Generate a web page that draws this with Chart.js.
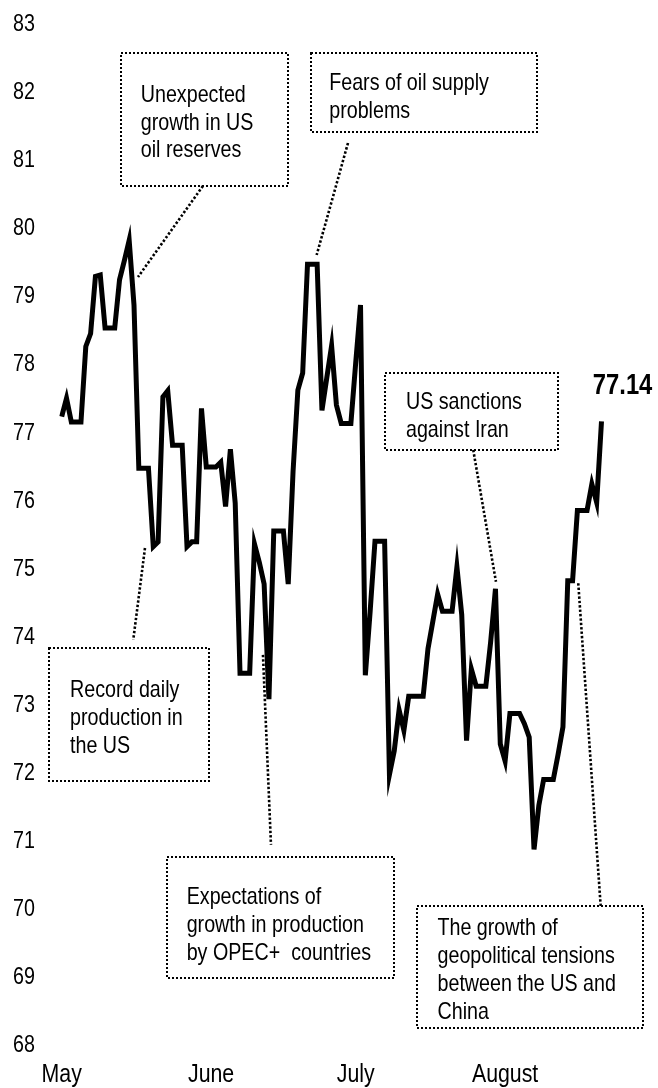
<!DOCTYPE html>
<html><head><meta charset="utf-8">
<script src="https://cdn.jsdelivr.net/npm/chart.js@4.4.1/dist/chart.umd.min.js"></script>
<style>html,body{margin:0;padding:0;background:#fff;}canvas{display:block;}</style>
</head><body>
<canvas id="c" width="658" height="1088"></canvas>
<script>
// ---- data ----
const monthNames = ['May', 'June', 'July', 'August'];
const monthDays = [31, 30, 31, 21];
const prices = [
  77.21, 77.48, 77.13, 77.13, 77.13, 78.24, 78.43, 79.27, 79.29, 78.51,
  78.51, 78.51, 79.22, 79.50, 79.80, 78.85, 76.45, 76.45, 76.45, 75.30,
  75.37, 77.50, 77.59, 76.79, 76.79, 76.79, 75.30, 75.37, 75.37, 77.33,
  76.47, 76.47, 76.47, 76.54, 75.89, 76.73, 75.94, 73.44, 73.44, 73.44,
  75.34, 75.07, 74.75, 73.06, 75.53, 75.53, 75.53, 74.75, 76.40, 77.60,
  77.85, 79.45, 79.45, 79.45, 77.30, 77.78, 78.25, 77.38, 77.11, 77.11,
  77.11, 78.00, 78.85, 73.41, 74.35, 75.38, 75.38, 75.38, 71.95, 72.30,
  72.90, 72.60, 73.10, 73.10, 73.10, 73.10, 73.80, 74.20, 74.60, 74.35,
  74.35, 74.35, 75.00, 74.30, 72.45, 73.50, 73.25, 73.25, 73.25, 73.90,
  74.68, 72.40, 72.15, 72.85, 72.85, 72.85, 72.70, 72.50, 70.85, 71.50,
  71.88, 71.88, 71.88, 72.25, 72.65, 74.80, 74.80, 75.83, 75.83, 75.83,
  76.22, 75.95, 77.14
];
const yMin = 68, yMax = 83, yStep = 1;
const lastValueLabel = '77.14';

// categories: one per calendar day
const categories = [];
monthNames.forEach((m, k) => { for (let d = 1; d <= monthDays[k]; d++) categories.push(d + ' ' + m); });

// annotation texts
const noteTexts = [
  ['Unexpected', 'growth in US', 'oil reserves'],
  ['Fears of oil supply', 'problems'],
  ['Record daily', 'production in', 'the US'],
  ['Expectations of', 'growth in production', 'by OPEC+  countries'],
  ['The growth of', 'geopolitical tensions', 'between the US and', 'China'],
  ['US sanctions', 'against Iran']
];
// annotation geometry in axis units (x: day index, y: price)
const noteGeom = [
  { box: [12.24, 82.552, 46.95, 80.598], textX: 16.4, textY: 81.964, leader: [29.3, 80.598, 15.83, 79.26] },
  { box: [51.66, 82.552, 98.67, 81.396], textX: 55.5, textY: 82.130, leader: [59.4, 81.23, 52.9, 79.584] },
  { box: [-2.57, 73.806, 30.62, 71.861], textX: 1.72, textY: 73.22, leader: [17.28, 75.28, 14.85, 73.93] },
  { box: [21.91, 70.736, 69.0, 68.967], textX: 25.93, textY: 70.18, leader: [41.76, 73.71, 43.42, 70.92] },
  { box: [73.65, 70.02, 120.66, 68.233], textX: 77.97, textY: 69.716, leader: [107.18, 74.762, 111.83, 70.02] },
  { box: [67.07, 77.846, 103.03, 76.72], textX: 71.43, textY: 77.454, leader: [85.39, 76.72, 90.1, 74.785] }
];
const lineStepUnits = 0.41;

const FONT = '"Liberation Sans", Arial, sans-serif';
const NARROW = 0.82;

function narrowText(ctx, text, x, y, font, align) {
  ctx.save();
  ctx.font = font;
  ctx.textBaseline = 'alphabetic';
  ctx.textAlign = align;
  ctx.translate(x, y);
  ctx.scale(NARROW, 1);
  ctx.fillText(text, 0, 0);
  ctx.restore();
}

const textPlugin = {
  id: 'texts',
  afterDatasetsDraw(chart) {
    const ctx = chart.ctx;
    const xs = chart.scales.x, ys = chart.scales.y;
    const area = chart.chartArea;
    ctx.save();
    ctx.fillStyle = '#000';
    // y axis labels
    ys.ticks.forEach(t => {
      const py = ys.getPixelForValue(t.value);
      narrowText(ctx, String(t.value), area.left - 26.7, py + 8.6, '24px ' + FONT, 'right');
    });
    // month labels
    categories.forEach((c, i) => {
      if (c.startsWith('1 ')) {
        narrowText(ctx, c.slice(2), xs.getPixelForValue(i), area.bottom + 38, '26px ' + FONT, 'center');
      }
    });
    // annotations
    ctx.strokeStyle = '#000';
    noteGeom.forEach((g, k) => {
      const x1 = Math.round(xs.getPixelForValue(g.box[0])), y1 = Math.round(ys.getPixelForValue(g.box[1]));
      const x2 = Math.round(xs.getPixelForValue(g.box[2])), y2 = Math.round(ys.getPixelForValue(g.box[3]));
      ctx.lineWidth = 2;
      ctx.setLineDash([2, 2]);
      ctx.strokeRect(x1, y1, x2 - x1, y2 - y1);
      ctx.lineWidth = 2.6;
      ctx.setLineDash([2.4, 2]);
      ctx.beginPath();
      ctx.moveTo(xs.getPixelForValue(g.leader[0]), ys.getPixelForValue(g.leader[1]));
      ctx.lineTo(xs.getPixelForValue(g.leader[2]), ys.getPixelForValue(g.leader[3]));
      ctx.stroke();
      noteTexts[k].forEach((t, j) => {
        narrowText(ctx, t, xs.getPixelForValue(g.textX), ys.getPixelForValue(g.textY - j * lineStepUnits) + 8.6, '24px ' + FONT, 'left');
      });
    });
    ctx.setLineDash([]);
    narrowText(ctx, lastValueLabel, xs.getPixelForValue(110.2), ys.getPixelForValue(77.69) + 10.4, 'bold 29px ' + FONT, 'left');
    ctx.restore();
  }
};

new Chart(document.getElementById('c'), {
  type: 'line',
  data: {
    labels: categories,
    datasets: [{
      data: prices,
      borderColor: '#000',
      borderWidth: 5,
      pointRadius: 0,
      tension: 0,
      fill: false
    }]
  },
  options: {
    responsive: false,
    animation: false,
    devicePixelRatio: 1,
    layout: { padding: { top: 22.5, right: 56.5, left: 0, bottom: 0 } },
    plugins: { legend: { display: false }, tooltip: { enabled: false } },
    scales: {
      x: {
        type: 'category',
        offset: false,
        grid: { display: false, drawTicks: false },
        border: { display: false },
        afterFit(s) { s.height = 44.5; },
        ticks: { display: false }
      },
      y: {
        min: yMin, max: yMax,
        grid: { display: false, drawTicks: false },
        border: { display: false },
        afterFit(s) { s.width = 61.7; },
        ticks: { display: false, stepSize: yStep }
      }
    }
  },
  plugins: [textPlugin]
});
</script>
</body></html>
